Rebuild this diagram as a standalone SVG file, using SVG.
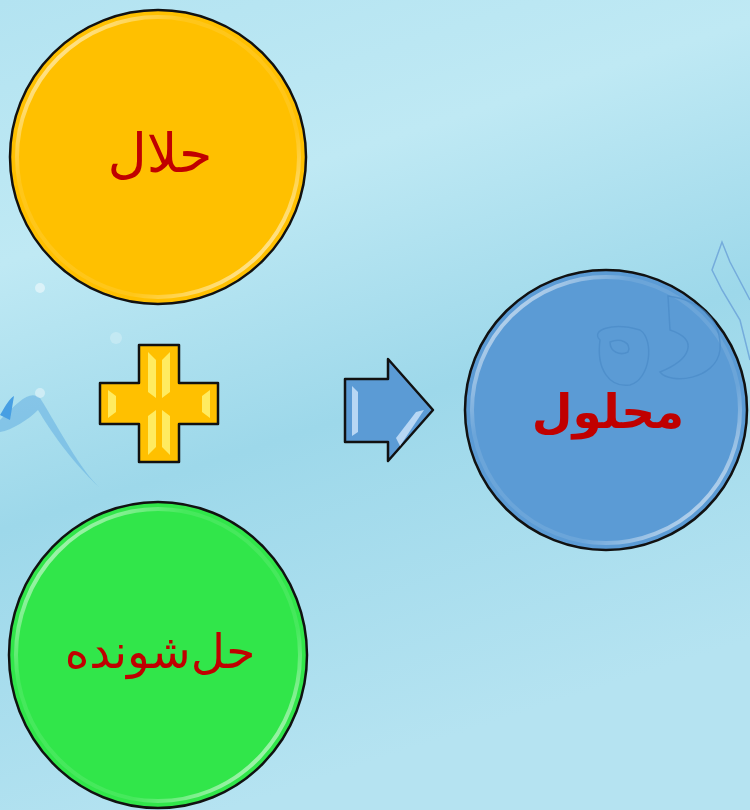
<svg xmlns="http://www.w3.org/2000/svg" width="750" height="810" viewBox="0 0 750 810">
<defs>
<linearGradient id="bg" x1="0" y1="0" x2="0.3" y2="1">
<stop offset="0" stop-color="#b3e3f1"/>
<stop offset="0.3" stop-color="#bfe9f4"/>
<stop offset="0.6" stop-color="#9dd8ea"/>
<stop offset="1" stop-color="#b5e3f1"/>
</linearGradient>
<linearGradient id="rim" x1="0" y1="0" x2="1" y2="1">
<stop offset="0" stop-color="#ffffff" stop-opacity="0.9"/>
<stop offset="0.3" stop-color="#ffffff" stop-opacity="0.1"/>
<stop offset="0.7" stop-color="#ffffff" stop-opacity="0.1"/>
<stop offset="1" stop-color="#ffffff" stop-opacity="0.9"/>
</linearGradient>
<style>
.txt{fill:#c00000;font-family:"Liberation Serif","DejaVu Sans",serif;text-anchor:middle;direction:rtl}
.ol{stroke:#111;stroke-width:2.5}
.rimc{fill:none;stroke:url(#rim);stroke-width:4}
</style>
</defs>
<rect width="750" height="810" fill="url(#bg)"/>
<g id="decor" opacity="0.8">
<path d="M0 420 C 20 400, 30 390, 40 398 C 60 430, 80 470, 100 488 C 70 460, 50 430, 38 410 C 28 420, 12 430, 0 432 Z" fill="#5aa8e0" opacity="0.6"/>
<path d="M0 415 C 6 405, 10 398, 14 396 L 10 420 Z" fill="#2f8fe0"/>
<circle cx="40" cy="288" r="5" fill="#ffffff" opacity="0.6"/>
<circle cx="40" cy="393" r="5" fill="#ffffff" opacity="0.5"/>
<circle cx="116" cy="338" r="6" fill="#ffffff" opacity="0.3"/>
<path d="M750 360 L 740 320 L 722 290 L 712 270 L 722 242 L 730 262 L 750 300" fill="none" stroke="#6aa0d8" stroke-width="1.5"/>
</g>
<g id="solvent">
<ellipse cx="158" cy="157" rx="148" ry="147" fill="#ffc000" class="ol"/>
<ellipse cx="158" cy="157" rx="141" ry="140" class="rimc"/>
<text x="160" y="172" class="txt" font-size="54">حلال</text>
</g>
<g id="solute">
<ellipse cx="158" cy="655" rx="149" ry="153" fill="#31e64a" class="ol"/>
<ellipse cx="158" cy="655" rx="142" ry="146" class="rimc"/>
<text x="160" y="668" class="txt" font-size="47">حل‌شونده</text>
</g>
<g id="plus">
<path d="M139 345 H179 V383 H218 V424 H179 V462 H139 V424 H100 V383 H139 Z" fill="#ffc000" class="ol" stroke-linejoin="round"/>
<path d="M148 352 L156 360 L156 398 L148 392 Z M170 352 L162 360 L162 398 L170 392 Z M148 455 L156 447 L156 410 L148 416 Z M170 455 L162 447 L162 410 L170 416 Z" fill="#fff06a" opacity="0.9"/>
<path d="M108 390 L116 396 L116 412 L108 418 Z M210 390 L202 396 L202 412 L210 418 Z" fill="#fff06a" opacity="0.9"/>
</g>
<g id="arrow">
<path d="M345 379 H388 V359 L433 410 L388 461 V442 H345 Z" fill="#5b9bd5" class="ol" stroke-linejoin="round"/>
<path d="M352 386 L358 392 L358 432 L352 436 Z" fill="#cfe6fb" opacity="0.8"/>
<path d="M424 410 L416 412 L396 438 L400 446 Z" fill="#cfe6fb" opacity="0.8"/>
</g>
<g id="solution">
<ellipse cx="606" cy="410" rx="141" ry="140" fill="#5b9bd5" class="ol"/>
<ellipse cx="606" cy="410" rx="134" ry="133" class="rimc"/>
<g fill="none" stroke="#4a8bc8" stroke-width="1.5" opacity="0.7">
<path d="M600 340 C 590 330, 612 322, 640 330 C 655 340, 650 380, 630 385 C 610 388, 596 370, 600 340 Z"/>
<path d="M610 342 C 620 338, 632 342, 628 352 C 620 356, 610 352, 610 342 Z"/>
<path d="M668 296 C 700 300, 722 320, 720 350 C 716 380, 670 385, 660 372 C 690 360, 700 340, 670 330 Z"/>
</g>
<text x="608" y="428" class="txt" font-size="47" font-weight="bold">محلول</text>
</g>
</svg>
